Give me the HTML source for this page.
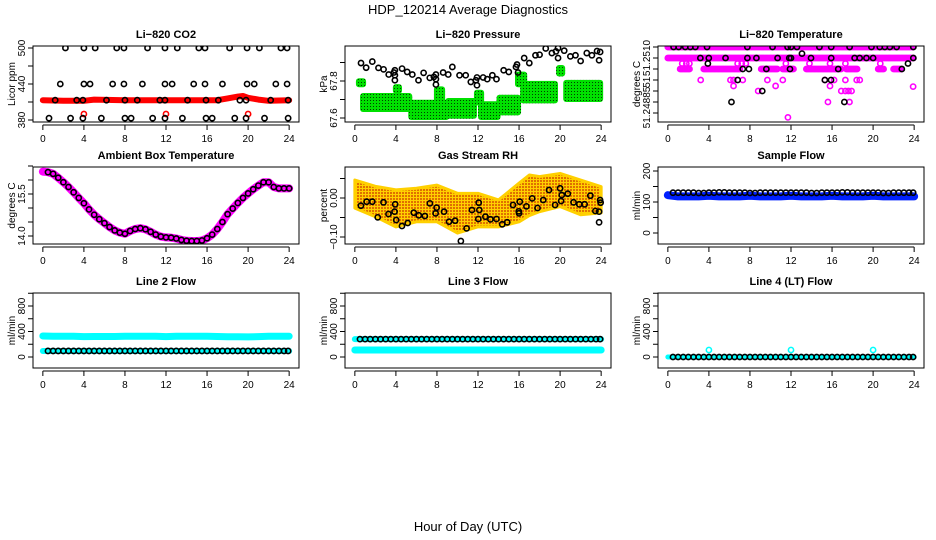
<!DOCTYPE html>
<html><head><meta charset="utf-8"><style>
html,body{margin:0;padding:0;background:#fff;}
svg{display:block;font-family:"Liberation Sans",Arial,sans-serif;}
</style></head><body>
<svg id="s" width="936" height="540" viewBox="0 0 936 540" xmlns="http://www.w3.org/2000/svg">
<defs>
<pattern id="gdots" width="3" height="3" patternUnits="userSpaceOnUse"><rect width="3" height="3" fill="#00e000"/><rect x="1" y="1" width="1" height="1" fill="#004000"/></pattern>
<pattern id="odots" width="3" height="3" patternUnits="userSpaceOnUse"><rect width="3" height="3" fill="#ffd000"/><rect x="0" y="0" width="2" height="2" fill="#e07000"/></pattern>
</defs>
<text x="468" y="14" text-anchor="middle" font-size="13">HDP_120214  Average Diagnostics</text>
<text x="468" y="531" text-anchor="middle" font-size="13">Hour of Day (UTC)</text>
</svg>
<script>
// ---------- data ----------
const co2Hours500=[2.2,4.0,5.1,7.2,7.9,10.2,11.9,13.1,15.2,15.8,18.2,19.9,21.1,23.2,23.8];
const co2Hours440=[1.7,4.0,4.6,6.8,7.9,9.7,11.9,12.6,14.7,15.8,17.5,19.9,20.6,22.7,23.8];
const co2Hours413=[1.2,3.3,3.9,6.2,8.0,9.2,11.4,11.9,14.1,15.9,17.1,19.2,19.8,22.2,23.9];
const co2Hours383=[0.6,2.7,3.9,5.7,8.0,8.6,10.7,11.9,13.6,15.9,16.5,18.7,19.8,21.6,23.9];
const co2RedHours=[0,2,4,5,8,12,17,18,19,19.5,20,21,22,24];
const co2RedVals=[413,412,412,414,413,413,413,416,419,420,417,414,412,413];
const co2RedDotHours=[4,12,20];
const co2RedDotVals=[390,390,390];

const presHours=[0.6,1.1,1.7,2.3,2.8,3.3,3.8,3.9,3.9,3.9,4.6,5.1,5.6,6.2,6.7,7.3,7.7,7.9,7.9,7.9,8.6,9.1,9.5,10.2,10.8,11.3,11.8,11.9,11.9,12.5,12.9,13.4,13.8,14.5,15.0,15.7,15.8,15.9,16.5,17.0,17.6,18.0,18.6,19.2,19.6,19.8,19.8,20.4,21.0,21.5,22.0,22.6,23.1,23.6,23.8,23.9];
const presVals=[67.897,67.872,67.905,67.871,67.863,67.835,67.846,67.858,67.831,67.804,67.867,67.849,67.835,67.804,67.844,67.817,67.822,67.835,67.810,67.781,67.846,67.835,67.876,67.831,67.831,67.795,67.804,67.819,67.777,67.819,67.810,67.831,67.810,67.858,67.849,67.876,67.889,67.846,67.924,67.897,67.939,67.942,67.976,67.951,67.960,67.978,67.924,67.964,67.933,67.939,67.908,67.951,67.939,67.962,67.912,67.957];
const greenH0=[0.3,0.7,3.9,5.4,7.9,9.0,11.8,12.2,14.0,15.8,16.3,19.8,20.5];
const greenH1=[0.9,5.4,4.4,9.0,8.6,11.7,12.4,14.0,16.0,16.6,19.6,20.3,24.0];
const greenLo=[67.777,67.643,67.742,67.600,67.697,67.607,67.679,67.600,67.625,67.777,67.690,67.835,67.697];
const greenHi=[67.804,67.724,67.772,67.688,67.760,67.697,67.742,67.680,67.715,67.840,67.790,67.876,67.795];

const tLevelVals=[51.25105,51.2510,51.25095,51.2509,51.25085,51.2508];
const tRunLevel=[0,1,2,2,2,2,2,2,2,2];
const tRunH0=[0,0,1.2,3.5,9.1,11.2,13.5,17.4,20.5,22.0];
const tRunH1=[24,24,2.2,7.1,10.7,12.3,16.9,18.5,21.1,22.8];
const tMagHours=[1.4,1.8,2.1,6.8,7.2,7.6,11.5,13.8,15.8,17.3,20.7,3.2,6.1,6.4,7.3,9.7,11.2,15.3,16.2,17.3,18.4,18.7,6.4,10.5,15.8,8.8,16.9,17.3,17.6,17.9,15.6,17.7,11.7,23.9];
const tMagVals=[51.250975,51.250975,51.250975,51.250975,51.250975,51.250975,51.250975,51.250975,51.250975,51.250975,51.250975,51.2509,51.2509,51.2509,51.2509,51.2509,51.2509,51.2509,51.2509,51.2509,51.2509,51.2509,51.250873,51.250873,51.250873,51.25085,51.25085,51.25085,51.25085,51.25085,51.2508,51.2508,51.25073,51.25087];
const tBlackHours=[0.56,1.05,1.7,2.19,2.68,3.82,7.75,10.2,11.67,12.0,12.58,14.77,15.92,17.71,19.84,20.65,21.14,21.63,22.29,23.92,3.17,3.99,5.62,7.75,8.63,10.69,11.83,12.0,13.95,15.92,18.2,18.69,19.35,20.0,23.92,13.07,3.9,7.3,7.9,9.6,11.9,16.6,22.8,23.4,6.8,15.3,15.9,9.2,6.2,17.2];
const tBlackVals=[51.25105,51.25105,51.25105,51.25105,51.25105,51.25105,51.25105,51.25105,51.25105,51.25105,51.25105,51.25105,51.25105,51.25105,51.25105,51.25105,51.25105,51.25105,51.25105,51.25105,51.2510,51.2510,51.2510,51.2510,51.2510,51.2510,51.2510,51.2510,51.2510,51.2510,51.2510,51.2510,51.2510,51.2510,51.2510,51.25102,51.250975,51.25095,51.25095,51.25095,51.25095,51.25095,51.25095,51.250975,51.2509,51.2509,51.2509,51.25085,51.2508,51.2508];
const tTickVals=[51.25105,51.2510,51.25095,51.2509,51.25085,51.2508,51.25075];
const tTickLabels=["51.2510","51","51.24885"];
const tTickLabelVals=[51.2510,51.25089,51.250775];

const ambHours=[0,0.5,1,1.5,2,2.5,3,3.5,4,4.5,5,5.5,6,6.5,7,7.5,8,8.5,9,9.5,10,10.5,11,11.5,12,12.5,13,13.5,14,14.5,15,15.5,16,16.5,17,17.5,18,18.5,19,19.5,20,20.5,21,21.5,22,22.5,23,23.5,24];
const ambVals=[16.3,16.28,16.22,16.08,15.92,15.75,15.56,15.36,15.17,14.95,14.76,14.6,14.46,14.32,14.2,14.12,14.08,14.18,14.25,14.28,14.24,14.15,14.05,13.98,13.95,13.94,13.91,13.86,13.83,13.82,13.82,13.84,13.92,14.05,14.25,14.5,14.78,14.98,15.18,15.36,15.52,15.67,15.8,15.92,15.92,15.75,15.7,15.7,15.7];

const rhBandHours=[0,2,4,6,8,10,12,14,16,17,18,20,22,24];
const rhBandHi=[0.046,0.030,0.021,0.025,0.033,0.012,0.012,-0.005,0.038,0.059,0.055,0.063,0.046,0.029];
const rhBandLo=[-0.026,-0.048,-0.074,-0.061,-0.061,-0.090,-0.074,-0.074,-0.061,-0.045,-0.035,-0.022,-0.043,-0.038];
const rhHours=[0.59,1.15,1.70,2.23,2.79,3.28,3.87,3.93,4.03,4.59,5.15,5.74,6.23,6.82,7.31,7.87,7.97,8.69,9.18,9.77,10.33,10.89,11.41,12.03,12.07,12.13,12.72,13.21,13.80,14.36,14.85,15.41,15.97,16.00,16.07,16.72,17.28,17.80,18.36,18.92,19.51,20.00,20.10,20.16,20.75,21.31,21.87,22.39,22.95,23.44,23.8,23.8,23.9,23.95];
const rhVals=[-0.0197,-0.0094,-0.0094,-0.0496,-0.0111,-0.0410,-0.0350,-0.0162,-0.0564,-0.0718,-0.0641,-0.0376,-0.0444,-0.0462,-0.0137,-0.0393,-0.0248,-0.0350,-0.0607,-0.0581,-0.1103,-0.0778,-0.0308,-0.0538,-0.0120,-0.0308,-0.0479,-0.0547,-0.0538,-0.0675,-0.0624,-0.0179,-0.0342,-0.0393,-0.0094,-0.0214,-0.0009,-0.0256,-0.0051,0.0205,-0.0179,0.0248,-0.0077,0.0077,0.0111,-0.0111,-0.0162,-0.0162,0.0060,-0.0333,-0.0350,-0.0624,-0.0051,-0.0120];

const flowHours=[0,1,2,3,4,5,6,7,8,9,10,11,12,13,14,15,16,17,18,19,20,21,22,23,24];
const sampleBlue=[122,118,118,118,120,118,118,118,120,118,118,118,120,118,118,118,120,118,118,118,120,118,118,118,118];
const sampleBlack=[130,130,130,129,130,131,130,130,129,130,130,130,130,130,129,130,130,131,130,130,130,129,130,130,130];
const line2Cyan=[330,325,325,325,320,322,322,322,325,325,325,325,320,325,325,325,325,322,318,318,315,320,325,325,325];
const line2Black=[95,95,95,95,95,95,95,95,95,95,95,95,95,95,95,95,95,95,95,95,95,95,95,95,95];
const line3Cyan=[110,110,110,110,110,110,110,110,110,110,110,110,110,110,110,110,110,110,110,110,110,110,110,110,110];
const line3Black=[280,280,280,280,280,280,280,280,280,280,280,280,280,280,280,280,280,280,280,280,280,280,280,280,280];
const line4Black=[0,0,0,0,0,0,0,0,0,0,0,0,0,0,0,0,0,0,0,0,0,0,0,0,0];
const line4SpikeHours=[4,12,20];
const line4SpikeVals=[110,110,110];

// ---------- drawing ----------
const S=document.getElementById('s'),NS='http://www.w3.org/2000/svg';
function mk(tag,attrs,parent){const e=document.createElementNS(NS,tag);for(const k in attrs)e.setAttribute(k,attrs[k]);(parent||S).appendChild(e);return e;}
const colL=[33,345,658],rowT=[46,167,293],rowB=[122,244,368],W=266;
function panel(col,row,title,ylab,v0,y0,v1,y1,ticks,labels,name,labelVals){
  const L=colL[col],T=rowT[row],B=rowB[row];
  const g=mk('g',{});
  
  
  const xs=h=>L+(h+0.96)/25.92*W;
  const ys=v=>y0+(v-v0)*(y1-y0)/(v1-v0);
  const t=mk('text',{x:L+W/2,y:T-8,'text-anchor':'middle','font-size':11,'font-weight':'bold'},g);t.textContent=title;
  
  
  const yl=mk('text',{x:0,y:0,transform:`translate(${L-18},${(T+B)/2}) rotate(-90)`,'text-anchor':'middle','font-size':10},g);yl.textContent=ylab;
  
  
  const ax=mk('g',{stroke:'#000','stroke-width':1},g);
  
  
  mk('line',{x1:xs(0),x2:xs(24),y1:B+3,y2:B+3},ax);
  [0,4,8,12,16,20,24].forEach(h=>{mk('line',{x1:xs(h),x2:xs(h),y1:B+3,y2:B+8},ax);
    const tx=mk('text',{x:xs(h),y:B+20,'text-anchor':'middle','font-size':10,stroke:'none'},g);tx.textContent=h;
    
    });
  const ay=mk('g',{stroke:'#000'},g);
  
  
  ticks.forEach(v=>mk('line',{x1:L-5,x2:L,y1:ys(v),y2:ys(v)},ay));
  const lv=labelVals||ticks;
  lv.forEach((v,i)=>{
    if(labels[i]){const tx=mk('text',{x:0,y:0,transform:`translate(${L-8},${ys(v)}) rotate(-90)`,'text-anchor':'middle','font-size':10,stroke:'none'},g);tx.textContent=labels[i];
    
    }});
  const cp='c'+col+row;
  const clip=mk('clipPath',{id:cp},g);mk('rect',{x:L,y:T,width:W,height:B-T},clip);
  const plot=mk('g',{'clip-path':`url(#${cp})`},g);
  
  
  const frame=mk('rect',{x:L,y:T,width:W,height:B-T,fill:'none',stroke:'#000','stroke-width':1},g);
  
  
  return {xs,ys,plot};
}
function circ(p,h,v,col,name,fill){const c=mk('circle',{cx:p.xs(h),cy:p.ys(v),r:2.6,fill:fill||'none',stroke:col,'stroke-width':1.6},p.plot);
  
  return c;}
function band(p,hours,vals,col,w,name){const pts=hours.map((h,i)=>p.xs(h)+','+p.ys(vals[i])).join(' ');
  const l=mk('polyline',{points:pts,fill:'none',stroke:col,'stroke-width':w,'stroke-linecap':'round','stroke-linejoin':'round'},p.plot);
  
  }
function halfSeries(p,hours,vals,col,start,name){for(let i=0;i<hours.length-1;i++){[0,0.5].forEach(o=>{const h=hours[i]+o;if(h<start)return;circ(p,h,vals[i],col,name);});} circ(p,hours[hours.length-1]-0.1,vals[vals.length-1],col,name);}

// Panel 1 CO2
let p=panel(0,0,'Li\u2212820 CO2','Licor ppm',500,48,380,120,[380,410,440,470,500],['380','','440','','500'],'panel-co2');
band(p,co2RedHours,co2RedVals,'#f00',6,'co2-red-band');
co2RedDotHours.forEach((h,i)=>circ(p,h,co2RedDotVals[i],'#f00','co2-red-point'));
[[co2Hours500,500],[co2Hours440,440],[co2Hours413,413],[co2Hours383,383]].forEach(([hs,v])=>hs.forEach(h=>circ(p,h,v,'#000','co2-black-point')));

// Panel 2 Pressure
p=panel(1,0,'Li\u2212820 Pressure','kPa',67.6,118,67.8,81,[67.6,67.7,67.8,67.9],['67.6','','67.8',''],'panel-pressure');
greenH0.forEach((h0,i)=>{const r=mk('rect',{x:p.xs(h0)-2,y:p.ys(greenHi[i])-2,width:p.xs(greenH1[i])-p.xs(h0)+4,height:p.ys(greenLo[i])-p.ys(greenHi[i])+4,rx:3,fill:'url(#gdots)'},p.plot);
  
  });
presHours.forEach((h,i)=>circ(p,h,presVals[i],'#000','pressure-point'));

// Panel 3 Li-820 Temperature
p=panel(2,0,'Li\u2212820 Temperature','degrees C',51.2510,58,51.2509,80,tTickVals,tTickLabels,'panel-li820-temp',tTickLabelVals);
tRunLevel.forEach((lv,i)=>{for(let h=tRunH0[i];h<=tRunH1[i]+1e-9;h+=0.13)circ(p,h,tLevelVals[lv],'#f0f','temp-magenta-point');});
tMagHours.forEach((h,i)=>circ(p,h,tMagVals[i],'#f0f','temp-magenta-point'));
tBlackHours.forEach((h,i)=>circ(p,h,tBlackVals[i],'#000','temp-black-point'));

// Panel 4 Ambient
p=panel(0,1,'Ambient Box Temperature','degrees C',14,236,15.5,194,[14,14.5,15,15.5,16,16.5],['14.0','','','15.5','',''],'panel-ambient-temp');
band(p,ambHours,ambVals,'#f0f',8,'ambient-magenta-band');
ambHours.forEach((h,i)=>{if(h>=0.5)circ(p,h,ambVals[i],'#000','ambient-point');});

// Panel 5 RH
p=panel(1,1,'Gas Stream RH','percent',0,198,-0.1,237,[-0.1,-0.05,0,0.05],['\u22120.10','','0.00',''],'panel-gas-rh');
{const pts=rhBandHours.map((h,i)=>p.xs(h)+','+p.ys(rhBandHi[i])).concat(rhBandHours.slice().reverse().map((h,j)=>p.xs(h)+','+p.ys(rhBandLo[rhBandHours.length-1-j]))).join(' ');
 const poly=mk('polygon',{points:pts,fill:'url(#odots)',stroke:'#ffd000','stroke-width':3,'stroke-linejoin':'round'},p.plot);
 
 }
rhHours.forEach((h,i)=>circ(p,h,rhVals[i],'#000','rh-point'));

// Panel 6 Sample flow
p=panel(2,1,'Sample Flow','ml/min',0,233,200,171,[0,50,100,150,200],['0','','100','','200'],'panel-sample-flow');
band(p,flowHours,sampleBlue,'#0020ff',8,'sample-blue-band');
halfSeries(p,flowHours,sampleBlack,'#000',0.5,'sample-black-point');

// Panel 7 Line 2
const fT=[0,200,400,600,800,1000],fL=['0','','400','','800',''];
p=panel(0,2,'Line 2 Flow','ml/min',0,357,800,306,fT,fL,'panel-line2-flow');
band(p,flowHours,line2Cyan,'#00ffff',7,'line2-cyan-band');
band(p,flowHours,line2Black,'#00ffff',6,'line2-cyan-under');
halfSeries(p,flowHours,line2Black,'#000',0.5,'line2-black-point');

// Panel 8 Line 3
p=panel(1,2,'Line 3 Flow','ml/min',0,357,800,306,fT,fL,'panel-line3-flow');
band(p,flowHours,line3Cyan,'#00ffff',7,'line3-cyan-band');
band(p,flowHours,line3Black,'#00ffff',6,'line3-cyan-under');
halfSeries(p,flowHours,line3Black,'#000',0.5,'line3-black-point');

// Panel 9 Line 4
p=panel(2,2,'Line 4 (LT) Flow','ml/min',0,357,800,306,fT,fL,'panel-line4-flow');
band(p,flowHours,line4Black,'#00ffff',5,'line4-cyan-band');
halfSeries(p,flowHours,line4Black,'#000',0.5,'line4-black-point');
line4SpikeHours.forEach((h,i)=>circ(p,h,line4SpikeVals[i],'#00ffff','line4-cyan-spike'));
</script>
</body></html>
